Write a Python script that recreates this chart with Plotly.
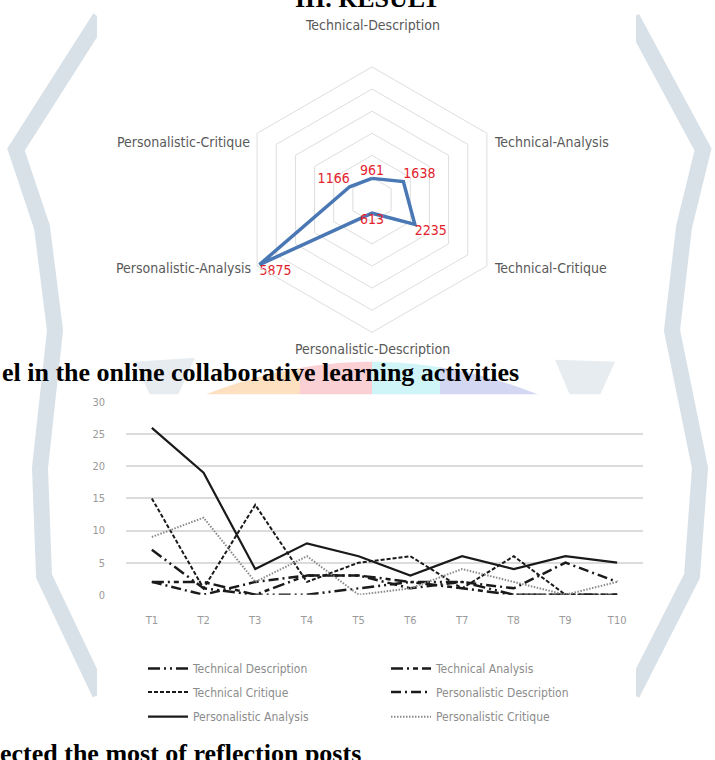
import plotly.graph_objects as go

W, H = 715, 760

# ---------------- data ----------------
radar_categories = ["Technical-Description", "Technical-Analysis", "Technical-Critique",
                    "Personalistic-Description", "Personalistic-Analysis", "Personalistic-Critique"]
radar_values = [961, 1638, 2235, 613, 5875, 1166]

periods = ["T1", "T2", "T3", "T4", "T5", "T6", "T7", "T8", "T9", "T10"]
technical_description = [7, 1, 0, 0, 1, 2, 2, 0, 0, 0]
technical_analysis = [2, 2, 0, 3, 3, 2, 1, 0, 0, 0]
technical_critique = [15, 1, 14, 2, 5, 6, 1, 6, 0, 0]
personalistic_description = [2, 0, 2, 3, 3, 1, 2, 1, 5, 2]
personalistic_analysis = [26, 19, 4, 8, 6, 3, 6, 4, 6, 5]
personalistic_critique = [9, 12, 2, 6, 0, 1, 4, 2, 0, 2]

series_names = ["Technical Description", "Technical Analysis", "Technical Critique",
                "Personalistic Description", "Personalistic Analysis", "Personalistic Critique"]
series_values = [technical_description, technical_analysis, technical_critique,
                 personalistic_description, personalistic_analysis, personalistic_critique]


def px(x):
    return x / W


def py(y):
    return 1 - y / H


NARROW = "Liberation Sans Narrow, DejaVu Sans Condensed, Arial Narrow, sans-serif"
SERIF = "Liberation Serif, Times New Roman, serif"

fig = go.Figure()

# ---------------- radar ----------------
theta_closed = radar_categories + radar_categories[:1]
r_closed = radar_values + radar_values[:1]
fig.add_trace(go.Scatterpolar(
    r=r_closed, theta=theta_closed, mode="lines",
    line=dict(color="#4a78b4", width=3.5), showlegend=False, hoverinfo="skip",
    subplot="polar"))
fig.add_trace(go.Scatterpolar(
    r=radar_values, theta=radar_categories, mode="text",
    text=[str(v) for v in radar_values],
    textposition=["top center", "top right", "bottom right", "bottom center",
                  "bottom right", "top left"],
    textfont=dict(color="#e3222c", size=14, family=NARROW),
    showlegend=False, hoverinfo="skip", subplot="polar"))

cx, cy, R = 372, 197, 135

# ---------------- line chart ----------------
styles = [
    dict(color="#1a1a1a", width=2.5, dash="12px,4px,2px,4px,2px,4px"),
    dict(color="#1a1a1a", width=2.5, dash="12px,4px,2px,4px,5px,4px"),
    dict(color="#1a1a1a", width=2, dash="4px,2px"),
    dict(color="#1a1a1a", width=2.5, dash="10px,4px,2px,4px"),
    dict(color="#1a1a1a", width=2.2, dash="solid"),
    dict(color="#8a8a8a", width=2, dash="1.5px,1.5px"),
]
legend_ids = ["legend", "legend", "legend2", "legend2", "legend3", "legend3"]
for name, vals, st, lg in zip(series_names, series_values, styles, legend_ids):
    fig.add_trace(go.Scatter(
        x=periods, y=vals, name=name, mode="lines", line=st,
        legend=lg, xaxis="x", yaxis="y"))

# ---------------- decoration (scan watermark) ----------------
shapes = []
band = "rgba(200,212,222,0.7)"
band_light = "rgba(200,212,222,0.45)"


def poly_path(pts, close=False):
    s = "M " + " L ".join(f"{px(x):.5f},{py(y):.5f}" for x, y in pts)
    return s + (" Z" if close else "")


left_band = [(100, 12), (16, 146), (42, 225), (55, 330), (40, 470), (44, 580), (100, 700)]
right_band = [(632, 12), (703, 146), (684, 225), (672, 330), (700, 470), (692, 580), (632, 700)]
for pts in (left_band, right_band):
    shapes.append(dict(type="path", path=poly_path(pts), xref="paper", yref="paper",
                       line=dict(color=band, width=16), layer="below"))

# gray logo fragments between the charts
shapes.append(dict(type="path", path=poly_path([(135, 362), (195, 358), (178, 396), (150, 396)], True),
                   xref="paper", yref="paper", fillcolor=band_light, line=dict(width=0), layer="below"))
shapes.append(dict(type="path", path=poly_path([(555, 360), (615, 362), (600, 396), (570, 396)], True),
                   xref="paper", yref="paper", fillcolor=band_light, line=dict(width=0), layer="below"))

# coloured circle of the logo
segs = [(205, 300, "#fde0c0"), (300, 372, "#fbd0d5"), (372, 440, "#cff5f8"), (440, 545, "#d3d7f2")]
for x0, x1, col in segs:
    pts = []
    n = 12
    for i in range(n + 1):
        x = x0 + (x1 - x0) * i / n
        y = 362 + 34 * ((x - 372) / 168) ** 2
        pts.append((x, y))
    pts += [(x1, 400), (x0, 400)]
    shapes.append(dict(type="path", path=poly_path(pts, True), xref="paper", yref="paper",
                       fillcolor=col, line=dict(width=0), layer="below"))

# white chart boxes
shapes.append(dict(type="rect", xref="paper", yref="paper", x0=px(97), x1=px(636), y0=py(358), y1=py(-5),
                   fillcolor="white", line=dict(width=0), layer="below"))
shapes.append(dict(type="rect", xref="paper", yref="paper", x0=px(97), x1=px(636), y0=py(740), y1=py(395),
                   fillcolor="white", line=dict(width=0), layer="below"))

# ---------------- annotations ----------------
ann = []
label_pos = [(372, 19, "center"), (492, 138, "left"), (492, 267, "left"),
             (372, 349, "center"), (253, 267, "right"), (252, 138, "right")]
for cat, (x, y, xa) in zip(radar_categories, label_pos):
    ann.append(dict(text=cat, x=px(x), y=py(y), xref="paper", yref="paper", xanchor=xa, yanchor="middle",
                    showarrow=False, font=dict(family=NARROW, size=14, color="#595959")))

ann.append(dict(text="<b>III. RESULT</b>", x=px(368), y=py(-8), xref="paper", yref="paper",
                xanchor="center", yanchor="middle", showarrow=False,
                font=dict(family=SERIF, size=26, color="black")))
ann.append(dict(text="<b>el in the online collaborative learning activities</b>", x=px(0), y=py(373),
                xref="paper", yref="paper", xanchor="left", yanchor="middle", showarrow=False,
                font=dict(family=SERIF, size=26, color="black")))
ann.append(dict(text="<b>ected the most of reflection posts</b>", x=px(-2), y=py(761),
                xref="paper", yref="paper", xanchor="left", yanchor="middle", showarrow=False,
                font=dict(family=SERIF, size=26, color="black")))

legend_common = dict(orientation="h", xanchor="left", yanchor="middle", entrywidth=188,
                     itemwidth=40, bgcolor="rgba(0,0,0,0)",
                     font=dict(family=NARROW, size=12, color="#8c8c8c"))

fig.update_layout(
    width=W, height=H, margin=dict(l=0, r=0, t=0, b=0),
    paper_bgcolor="white", plot_bgcolor="rgba(0,0,0,0)",
    showlegend=True,
    polar=dict(
        domain=dict(x=[px(cx - R), px(cx + R)], y=[py(cy + R), py(cy - R)]),
        bgcolor="rgba(0,0,0,0)", gridshape="linear",
        radialaxis=dict(range=[0, 6000], dtick=1000, showticklabels=False, ticks="",
                        showline=False, gridcolor="#dedede", gridwidth=1),
        angularaxis=dict(rotation=90, direction="clockwise", showticklabels=False, ticks="",
                         showgrid=False, showline=True, linecolor="#dedede", linewidth=1),
    ),
    xaxis=dict(domain=[px(126), px(643)], type="category", range=[-0.5, 9.5], showgrid=False,
               showline=False, ticks="", tickfont=dict(family=NARROW, size=11, color="#9a9a9a"),
               ticklabelstandoff=17, zeroline=False, fixedrange=True),
    yaxis=dict(domain=[py(599), py(403)], range=[0, 30], dtick=5, showgrid=True,
               gridcolor="#dcdcdc", gridwidth=1.5, zeroline=False, showline=False, ticks="",
               tickfont=dict(family=NARROW, size=11, color="#9a9a9a"), ticklabelstandoff=20),
    legend=dict(x=px(143), y=py(674), **legend_common),
    legend2=dict(x=px(143), y=py(698), **legend_common),
    legend3=dict(x=px(143), y=py(723), **legend_common),
    shapes=shapes,
    annotations=ann,
)

fig.write_html("out.html", config={"displayModeBar": False},
               post_script="document.body.style.margin='0px';")
